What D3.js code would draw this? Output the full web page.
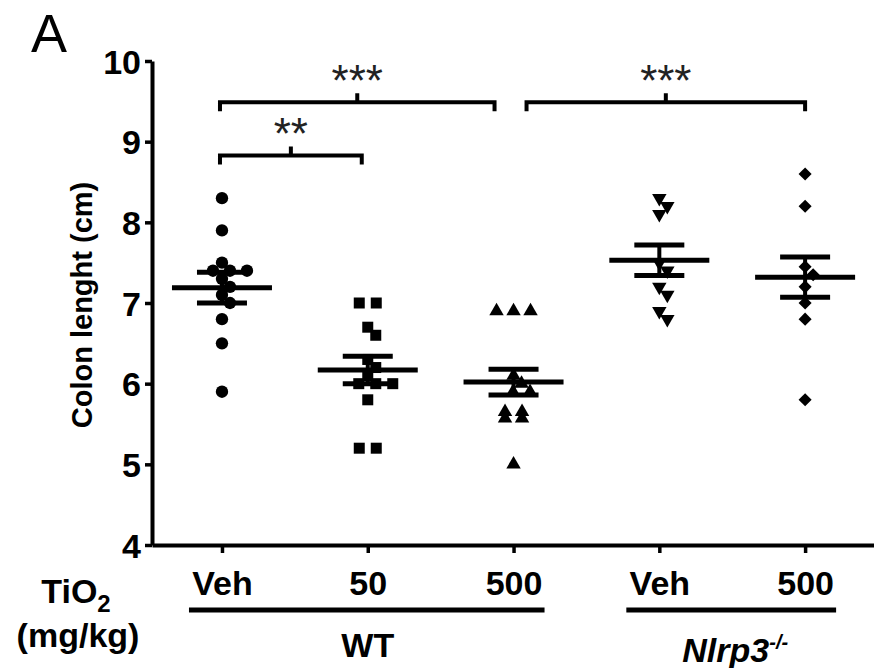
<!DOCTYPE html>
<html>
<head>
<meta charset="utf-8">
<script src="https://cdn.jsdelivr.net/npm/d3@7"></script>
<style>
  body { margin: 0; background: #fff; }
  svg { display: block; }
  text { font-family: Arial, "Liberation Sans", sans-serif; fill: #000; }
</style>
</head>
<body>
<svg id="chart" width="874" height="668"></svg>
<script>
// DATA
const doseLabels = ["Veh", "50", "500", "Veh", "500"];
const wtVeh = [8.3, 7.9, 7.5, 7.4, 7.4, 7.4, 7.3, 7.2, 7.1, 7.0, 6.8, 6.5, 5.9];
const wt50 = [7.0, 7.0, 6.7, 6.6, 6.3, 6.2, 6.1, 6.0, 6.0, 6.0, 5.8, 5.2, 5.2];
const wt500 = [6.9, 6.9, 6.9, 6.1, 6.0, 5.9, 5.9, 5.65, 5.65, 5.57, 5.57, 5.0];
const koVeh = [8.3, 8.2, 8.1, 7.5, 7.4, 7.2, 7.1, 6.9, 6.8];
const ko500 = [8.6, 8.2, 7.45, 7.35, 7.2, 7.0, 6.8, 5.8];
const means = [7.19, 6.17, 6.02, 7.53, 7.32];
const sems = [0.19, 0.17, 0.16, 0.19, 0.25];
const yTicks = [4, 5, 6, 7, 8, 9, 10];
const genotypes = [
  { name: "WT", sup: "", from: 0, to: 2 },
  { name: "Nlrp3", sup: "-/-", from: 3, to: 4 },
];
const brackets = [
  { from: 0, to: 2, level: 9.49, label: "***" },
  { from: 2, to: 4, level: 9.49, label: "***" },
  { from: 0, to: 1, level: 8.83, label: "**" },
];

const series = [wtVeh, wt50, wt500, koVeh, ko500];
const shapes = ["circle", "square", "triangle", "triangleDown", "diamond"];

// CANVAS SETUP
const svg = d3.select("#chart");
const margin = { top: 61, right: -4, bottom: 123, left: 152 };
const W = +svg.attr("width"), H = +svg.attr("height");

const x = d3.scaleLinear()
  .domain([-0.48, 4.5])
  .range([margin.left, W - margin.right]);
const y = d3.scaleLinear()
  .domain([4, 10])
  .range([H - margin.bottom, margin.top]);

// AXES
const gy = svg.append("g")
  .attr("transform", `translate(${margin.left},0)`)
  .call(d3.axisLeft(y).tickValues(yTicks).tickFormat(d3.format("d"))
    .tickSize(7).tickSizeOuter(0).tickPadding(4));
const gx = svg.append("g")
  .attr("transform", `translate(0,${H - margin.bottom})`)
  .call(d3.axisBottom(x).tickValues(d3.range(5)).tickSize(8).tickSizeOuter(0)
    .tickPadding(18).tickFormat((i) => doseLabels[i]));

[gy, gx].forEach((g) => {
  g.select(".domain").attr("stroke", "#000").attr("stroke-width", 4);
  g.selectAll(".tick line").attr("stroke", "#000").attr("stroke-width", 3.5);
  g.selectAll(".tick text")
    .attr("fill", "#000")
    .style("font-size", "34px")
    .style("font-weight", "bold")
    .style("font-family", "Arial, 'Liberation Sans', sans-serif");
});
gy.selectAll(".tick text").attr("dy", "0.36em");

// SYMBOLS
function symbolPath(shape) {
  if (shape === "circle") return d3.symbol(d3.symbolCircle, 120)();
  if (shape === "square") return d3.symbol(d3.symbolSquare, 121)();
  if (shape === "diamond") return d3.symbol(d3.symbolSquare, 85)();
  return d3.symbol(d3.symbolTriangle, 90)();
}
function symbolRotate(shape) {
  if (shape === "triangleDown") return 180;
  if (shape === "diamond") return 45;
  return 0;
}

// simple column-scatter placement: equal values side by side, near values nudged
function placePoints(values) {
  const rows = d3.groups(values, (v) => v).sort((a, b) => b[0] - a[0]);
  const placed = [];
  const step = 17, nudge = 8, minDist = 11;
  rows.forEach(([v, arr]) => {
    const py = y(v);
    const base = arr.map((_, k) => (k - (arr.length - 1) / 2) * step);
    const shifts = [0, nudge, -nudge, 2 * nudge, -2 * nudge, 3 * nudge, -3 * nudge];
    let shift = shifts.find((s) =>
      base.every((b) => placed.every((p) => Math.hypot(p.dx - (b + s), p.py - py) >= minDist))
    );
    if (shift === undefined) shift = 0;
    base.forEach((b) => placed.push({ v, py, dx: b + shift }));
  });
  return placed;
}

const gp = svg.append("g");
series.forEach((vals, i) => {
  gp.selectAll(null)
    .data(placePoints(vals))
    .join("path")
    .attr("d", symbolPath(shapes[i]))
    .attr("fill", "#000")
    .attr("transform", (d) => `translate(${x(i) + d.dx},${d.py}) rotate(${symbolRotate(shapes[i])})`);
});

// MEAN +/- SEM
const gm = svg.append("g").attr("stroke", "#000");
means.forEach((m, i) => {
  const cx = x(i);
  gm.append("line").attr("x1", cx - 50).attr("x2", cx + 50)
    .attr("y1", y(m)).attr("y2", y(m)).attr("stroke-width", 5);
  gm.append("line").attr("x1", cx).attr("x2", cx)
    .attr("y1", y(m - sems[i])).attr("y2", y(m + sems[i])).attr("stroke-width", 4);
  [m - sems[i], m + sems[i]].forEach((v) => {
    gm.append("line").attr("x1", cx - 25).attr("x2", cx + 25)
      .attr("y1", y(v)).attr("y2", y(v)).attr("stroke-width", 5);
  });
});

// SIGNIFICANCE BRACKETS
const gb = svg.append("g");
brackets.forEach((b) => {
  const shared = (idx) => brackets.some((o) => o !== b && o.level === b.level && (o.from === idx || o.to === idx));
  const x1 = x(b.from) + (shared(b.from) ? 13 : -2);
  const x2 = x(b.to) - (shared(b.to) ? 19 : 6 * (b.to === 1));
  const by = y(b.level);
  const cx = (x1 + x2) / 2;
  gb.append("path")
    .attr("d", `M${x1},${by + 9}V${by}H${x2}V${by + 9}M${cx},${by}V${by - 9}`)
    .attr("fill", "none").attr("stroke", "#000").attr("stroke-width", 4);
  gb.append("text")
    .attr("x", cx).attr("y", by - 6)
    .attr("text-anchor", "middle")
    .style("font-size", "44px")
    .style("fill", "#222")
    .text(b.label);
});

// GENOTYPE UNDERLINES AND LABELS
const gg = svg.append("g");
genotypes.forEach((g) => {
  gg.append("line")
    .attr("x1", x(g.from) - 33).attr("x2", x(g.to) + 31)
    .attr("y1", 610).attr("y2", 610)
    .attr("stroke", "#000").attr("stroke-width", 5);
  const t = gg.append("text")
    .attr("x", (x(g.from) + x(g.to)) / 2 + (g.sup ? 3 : 0))
    .attr("y", g.sup ? 662 : 657)
    .attr("text-anchor", "middle")
    .style("font-size", "34px").style("font-weight", "bold");
  t.append("tspan").style("font-style", g.sup ? "italic" : "normal").text(g.name);
  if (g.sup) t.append("tspan").attr("dy", -13).style("font-size", "20px").style("font-style", "italic").text(g.sup);
});

// AXIS TITLES
svg.append("text")
  .attr("transform", "translate(92,305) rotate(-90)")
  .attr("text-anchor", "middle")
  .style("font-size", "29px").style("font-weight", "bold")
  .text("Colon lenght (cm)");

const tio = svg.append("text")
  .attr("x", 76).attr("y", 603)
  .attr("text-anchor", "middle")
  .style("font-size", "34px").style("font-weight", "bold");
tio.append("tspan").text("TiO");
tio.append("tspan").attr("dy", 9).style("font-size", "24px").text("2");

svg.append("text")
  .attr("x", 78).attr("y", 647)
  .attr("text-anchor", "middle")
  .style("font-size", "34px").style("font-weight", "bold")
  .text("(mg/kg)");

svg.append("text")
  .attr("x", 31).attr("y", 52)
  .style("font-size", "54px")
  .text("A");
</script>
</body>
</html>
